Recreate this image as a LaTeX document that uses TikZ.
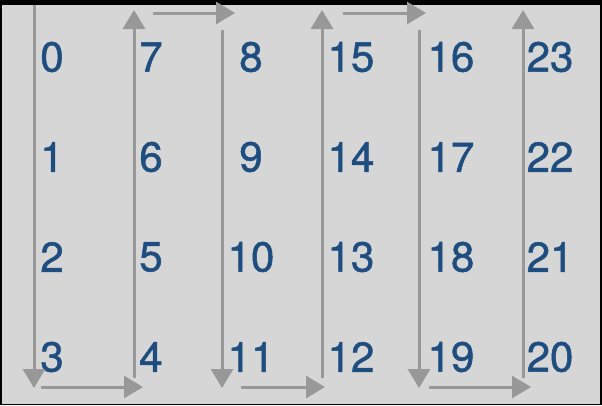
\documentclass[tikz,border=0pt]{standalone}
\usepackage{fontspec}
\newfontfamily\numfont{TeX Gyre Heros}[RawFeature={embolden=1.2}]
\usetikzlibrary{arrows.meta}
\definecolor{numblue}{RGB}{30,78,128}
\definecolor{paper}{RGB}{214,214,214}
\definecolor{pencil}{RGB}{152,152,152}
\begin{document}
\begin{tikzpicture}[x=1pt,y=-1pt,
		num/.style={text=numblue,inner sep=0pt,font=\numfont\fontsize{42}{48}\selectfont},
		flow/.style={draw=pencil,line width=3pt,-{Triangle[width=22pt,length=19pt]}}]
		% frame
		\fill[black] (0,0) rectangle (602,405);
		\fill[paper] (1.5,4.5) rectangle (599.5,403.5);
		\useasboundingbox (0,0) rectangle (602,405);
		% numbers
		\node[num] (n0) at (52,57) {0};
		\node[num] (n1) at (52,157) {1};
		\node[num] (n2) at (52,257) {2};
		\node[num] (n3) at (52,357) {3};
		\node[num] (n4) at (151,357) {4};
		\node[num] (n5) at (151,257) {5};
		\node[num] (n6) at (151,157) {6};
		\node[num] (n7) at (151,57) {7};
		\node[num] (n8) at (251,57) {8};
		\node[num] (n9) at (251,157) {9};
		\node[num] (n10) at (251,257) {10};
		\node[num] (n11) at (251,357) {11};
		\node[num] (n12) at (351,357) {12};
		\node[num] (n13) at (351,257) {13};
		\node[num] (n14) at (351,157) {14};
		\node[num] (n15) at (351,57) {15};
		\node[num] (n16) at (451,57) {16};
		\node[num] (n17) at (451,157) {17};
		\node[num] (n18) at (451,257) {18};
		\node[num] (n19) at (451,357) {19};
		\node[num] (n20) at (550,357) {20};
		\node[num] (n21) at (550,257) {21};
		\node[num] (n22) at (550,157) {22};
		\node[num] (n23) at (550,57) {23};
		% path ends
		\coordinate (d1s) at (34,4.5);
		\coordinate (d1e) at (34,388);
		\coordinate (b1s) at (41,387);
		\coordinate (b1e) at (143,387);
		\coordinate (u1s) at (134,378);
		\coordinate (u1e) at (134,10);
		\coordinate (t1s) at (153,13);
		\coordinate (t1e) at (235,13);
		\coordinate (d2s) at (222,30);
		\coordinate (d2e) at (222,388);
		\coordinate (b2s) at (241,387);
		\coordinate (b2e) at (325,387);
		\coordinate (u2s) at (322,378);
		\coordinate (u2e) at (322,10);
		\coordinate (t2s) at (343,13);
		\coordinate (t2e) at (426,13);
		\coordinate (d3s) at (419,30);
		\coordinate (d3e) at (419,388);
		\coordinate (b3s) at (429,387);
		\coordinate (b3e) at (531,387);
		\coordinate (u3s) at (523,378);
		\coordinate (u3e) at (523,10);
		% arrows
		\draw[flow] (d1s) -- (d1e);
		\draw[flow] (b1s) -- (b1e);
		\draw[flow] (u1s) -- (u1e);
		\draw[flow] (t1s) -- (t1e);
		\draw[flow] (d2s) -- (d2e);
		\draw[flow] (b2s) -- (b2e);
		\draw[flow] (u2s) -- (u2e);
		\draw[flow] (t2s) -- (t2e);
		\draw[flow] (d3s) -- (d3e);
		\draw[flow] (b3s) -- (b3e);
		\draw[flow] (u3s) -- (u3e);
	\end{tikzpicture}
\end{document}
